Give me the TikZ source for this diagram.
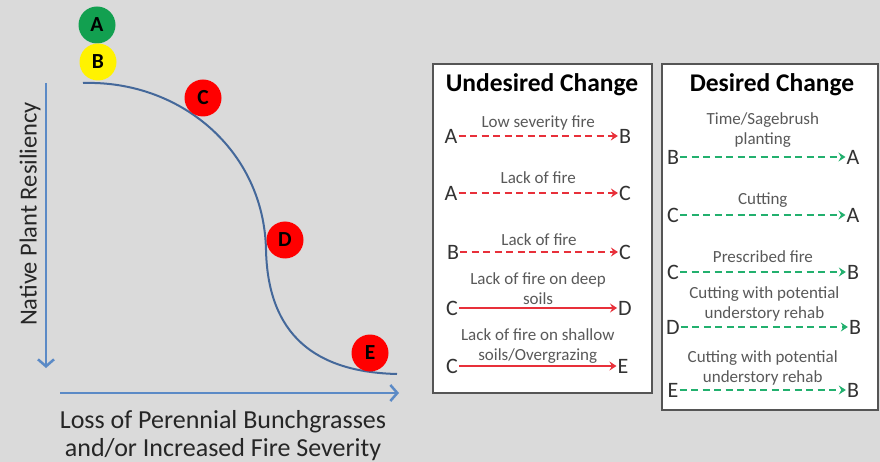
\documentclass[tikz,border=0pt]{standalone}
\usepackage{fontspec}
\setmainfont{Carlito}
\usetikzlibrary{arrows.meta}
\definecolor{bggray}{HTML}{DADADA}
\definecolor{axisblue}{HTML}{5B8AC6}
\definecolor{curveblue}{HTML}{44689A}
\definecolor{firered}{HTML}{FF0000}
\definecolor{arrred}{HTML}{E8303A}
\definecolor{arrgreen}{HTML}{22B06E}
\definecolor{stategreen}{HTML}{12A050}
\definecolor{labgray}{HTML}{595959}
\definecolor{boxgray}{HTML}{555555}
\tikzset{
  state/.style={circle,minimum size=37pt,inner sep=0pt,font=\fontsize{21.5}{21.5}\selectfont\bfseries},
  letter/.style={font=\fontsize{22}{22}\selectfont,text=black!80,inner sep=1pt},
  lbl/.style={font=\fontsize{17}{19.5}\selectfont,text=labgray,align=center,inner sep=1pt},
  undes/.style={arrred,line width=1.6pt,dash pattern=on 7pt off 4.5pt,-{Stealth[length=7pt,width=9pt,inset=2.5pt]}},
  undessolid/.style={arrred,line width=1.6pt,-{Stealth[length=7pt,width=9pt,inset=2.5pt]}},
  des/.style={arrgreen,line width=1.6pt,dash pattern=on 7pt off 4.5pt,-{Stealth[length=7pt,width=9pt,inset=2.5pt]}},
  axis/.style={axisblue,line width=2.5pt,-{Straight Barb[length=7pt,width=16pt,line width=2.5pt]}},
  panel/.style={draw=boxgray,line width=1.2pt,fill=white}
}
\begin{document}
\begin{tikzpicture}[x=1pt,y=-1pt]
\fill[bggray] (0,0) rectangle (880,462);
\useasboundingbox (0,0) rectangle (880,462);

% axes
\coordinate (ytop) at (46,83);
\coordinate (ybot) at (46,368);
\coordinate (xleft) at (60,393);
\coordinate (xright) at (399,393);
\draw[axis] (ytop) -- (ybot);
\draw[axis] (xleft) -- (xright);
\node[rotate=90,font=\fontsize{24.5}{24.5}\selectfont,text=black!85] (ylab) at (30,214) {Native Plant Resiliency};
\node[font=\fontsize{26}{28}\selectfont,text=black!85,align=center] (xlab) at (223,436)
  {Loss of Perennial Bunchgrasses\\and/or Increased Fire Severity};

% resiliency curve
\draw[curveblue,line width=2pt] (83,83) .. controls (180,80) and (264,150) .. (266,250)
  .. controls (268,335) and (315,372) .. (397,374);

% states
\node[state,fill=stategreen] (stA) at (97,25) {A};
\node[state,fill=yellow] (stB) at (98,62) {B};
\node[state,fill=firered] (stC) at (203,98) {C};
\node[state,fill=firered] (stD) at (285,240) {D};
\node[state,fill=firered] (stE) at (370,353) {E};

% undesired change
\draw[panel] (433,64) rectangle (652,393);
\node[font=\fontsize{25.5}{25.5}\selectfont\bfseries] (utitle) at (542,85) {Undesired Change};

\node[letter] (u1a) at (451,136) {A};
\node[letter] (u1b) at (625,136) {B};
\draw[undes] (u1a) -- (u1b) node[lbl,midway,above=4pt] {Low severity fire};

\node[letter] (u2a) at (451,193) {A};
\node[letter] (u2b) at (625,193) {C};
\draw[undes] (u2a) -- (u2b) node[lbl,midway,above=8pt] {Lack of fire};

\node[letter] (u3a) at (453,252) {B};
\node[letter] (u3b) at (625,252) {C};
\draw[undes] (u3a) -- (u3b) node[lbl,midway,above=5pt] {Lack of fire};

\node[letter] (u4a) at (452,308) {C};
\node[letter] (u4b) at (625,308) {D};
\draw[undessolid] (u4a) -- (u4b) node[lbl,midway,above=2pt] {Lack of fire on deep\\soils};

\node[letter] (u5a) at (452,366) {C};
\node[letter] (u5b) at (623,366) {E};
\draw[undessolid] (u5a) -- (u5b) node[lbl,midway,above=1pt] {Lack of fire on shallow\\soils/Overgrazing};

% desired change
\draw[panel] (662,64) rectangle (878,410);
\node[font=\fontsize{25.5}{25.5}\selectfont\bfseries] (dtitle) at (772,85) {Desired Change};

\node[letter] (d1a) at (673,157) {B};
\node[letter] (d1b) at (853,157) {A};
\draw[des] (d1a) -- (d1b) node[lbl,midway,above=8pt] {Time/Sagebrush\\planting};

\node[letter] (d2a) at (673,215) {C};
\node[letter] (d2b) at (853,215) {A};
\draw[des] (d2a) -- (d2b) node[lbl,midway,above=6pt] {Cutting};

\node[letter] (d3a) at (673,272) {C};
\node[letter] (d3b) at (853,272) {B};
\draw[des] (d3a) -- (d3b) node[lbl,midway,above=8pt] {Prescribed fire};

\node[letter] (d4a) at (673,327) {D};
\node[letter] (d4b) at (855,327) {B};
\draw[des] (d4a) -- (d4b) node[lbl,midway,above=4pt] {Cutting with potential\\understory rehab};

\node[letter] (d5a) at (673,390) {E};
\node[letter] (d5b) at (853,390) {B};
\draw[des] (d5a) -- (d5b) node[lbl,midway,above=3pt] {Cutting with potential\\understory rehab};
\end{tikzpicture}
\end{document}
